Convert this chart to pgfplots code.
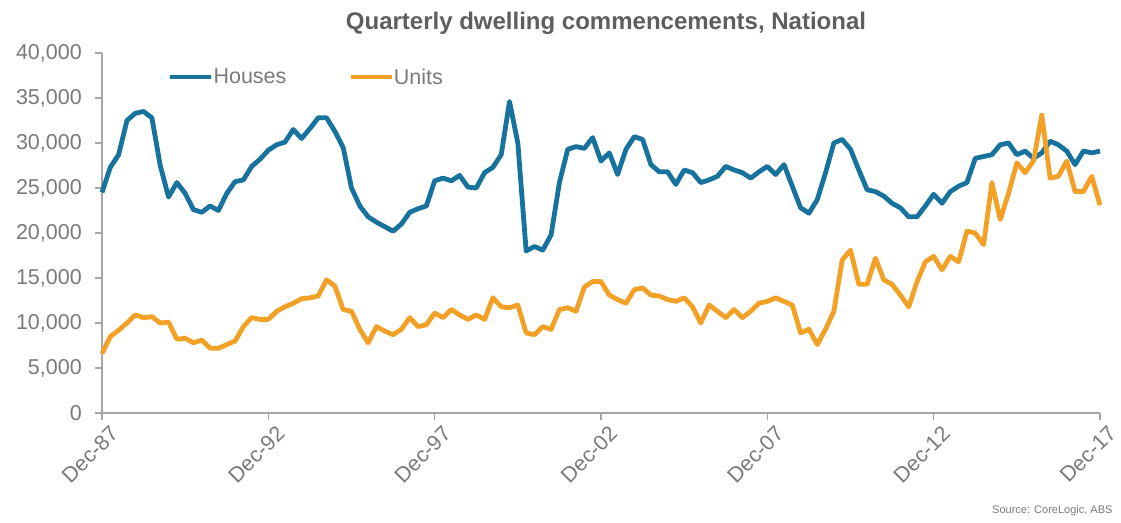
\documentclass[border=0pt]{standalone}
\usepackage{pgfplots}
\pgfplotsset{compat=1.18}
\usepackage{pgfplotstable}
\usepackage{fontspec}
\setmainfont{Liberation Sans}

\definecolor{houseblue}{HTML}{17729E}
\definecolor{unitorange}{HTML}{F3A126}
\definecolor{axisgray}{HTML}{A6A6A6}
\definecolor{ticktext}{HTML}{7A7A7A}
\definecolor{titlegray}{HTML}{5E5E5E}

% Quarterly commencements, Dec-87 (q=0) to Dec-17 (q=120)
\pgfplotstableread{
q houses units
0 24500 6600
1 27300 8500
2 28700 9200
3 32500 10000
4 33300 10900
5 33500 10600
6 32800 10700
7 27500 10000
8 24000 10100
9 25600 8200
10 24400 8300
11 22600 7800
12 22300 8100
13 23000 7200
14 22500 7200
15 24400 7600
16 25700 8000
17 25900 9600
18 27400 10600
19 28200 10400
20 29200 10400
21 29800 11300
22 30100 11800
23 31500 12200
24 30500 12700
25 31600 12800
26 32800 13000
27 32800 14800
28 31300 14100
29 29500 11500
30 25000 11300
31 23000 9300
32 21800 7800
33 21200 9600
34 20700 9100
35 20200 8700
36 21000 9300
37 22300 10600
38 22700 9600
39 23000 9800
40 25800 11100
41 26100 10600
42 25800 11500
43 26400 10900
44 25100 10400
45 25000 10900
46 26700 10400
47 27300 12800
48 28700 11800
49 34600 11700
50 30000 12000
51 18000 8900
52 18500 8700
53 18100 9600
54 19800 9300
55 25600 11500
56 29300 11700
57 29600 11300
58 29400 14000
59 30600 14600
60 28000 14600
61 28900 13100
62 26500 12600
63 29300 12200
64 30700 13700
65 30400 13900
66 27600 13100
67 26800 13000
68 26800 12600
69 25400 12400
70 27000 12800
71 26700 11800
72 25600 10000
73 25900 12000
74 26300 11300
75 27400 10600
76 27000 11500
77 26700 10600
78 26100 11300
79 26800 12200
80 27400 12400
81 26500 12800
82 27600 12400
83 25200 12000
84 22800 8900
85 22200 9300
86 23700 7600
87 26700 9300
88 30000 11300
89 30400 17000
90 29300 18100
91 27000 14300
92 24800 14300
93 24600 17200
94 24100 14800
95 23300 14300
96 22800 13100
97 21800 11800
98 21800 14600
99 23000 16800
100 24300 17400
101 23300 15900
102 24600 17400
103 25200 16800
104 25600 20200
105 28300 20000
106 28500 18700
107 28700 25600
108 29800 21500
109 30000 24400
110 28700 27800
111 29100 26700
112 28300 28000
113 28900 33100
114 30200 26100
115 29800 26300
116 29100 28000
117 27600 24600
118 29100 24600
119 28900 26300
120 29100 23100
}\commencements

\begin{document}
\begin{tikzpicture}
\useasboundingbox (0pt,0pt) rectangle (1121pt,522pt);
\begin{axis}[
  at={(102pt,109pt)}, anchor=south west,
  scale only axis,
  width=998pt, height=360pt,
  xmin=0, xmax=120, ymin=0, ymax=40000,
  axis x line*=bottom, axis y line*=left,
  axis line style={axisgray, line width=1.4pt, -},
  xtick={0,20,...,120},
  xticklabels={Dec-87,Dec-92,Dec-97,Dec-02,Dec-07,Dec-12,Dec-17},
  ytick={0,5000,...,40000},
  scaled y ticks=false,
  /pgf/number format/.cd, 1000 sep={,}, assume math mode=true, /pgfplots/.cd,
  tick align=outside,
  major tick length=7pt,
  tick style={axisgray, line width=1.2pt},
  ticklabel style={font=\fontsize{21.5}{24}\selectfont, text=ticktext},
  xticklabel style={rotate=45, anchor=north east, inner sep=1pt, yshift=-7pt, xshift=3pt},
  yticklabel style={inner sep=4pt, xshift=-9pt},
  legend columns=2,
  legend style={draw=none, fill=none, at={(0.066,0.933)}, anchor=west,
    font=\fontsize{21.5}{24}\selectfont, text=ticktext,
    /tikz/every even column/.append style={column sep=62pt},
    inner sep=0pt, nodes={inner xsep=0pt}},
  legend image code/.code={\draw[#1, line width=4.5pt] (0pt,0pt) -- (41pt,0pt);},
  clip=false,
]
\addplot[houseblue, line width=4.8pt, line join=round] table[x=q, y=houses] {\commencements};
\addlegendentry{Houses}
\addplot[unitorange, line width=4.8pt, line join=round] table[x=q, y=units] {\commencements};
\addlegendentry{Units}
\end{axis}
\node[font=\bfseries\fontsize{24}{28}\selectfont, text=titlegray] at (606pt,499pt) {Quarterly dwelling commencements, National};
\node[font=\fontsize{11}{12}\selectfont, text=ticktext, anchor=east] at (1116pt,11pt) {Source: CoreLogic, ABS};
\end{tikzpicture}
\end{document}
